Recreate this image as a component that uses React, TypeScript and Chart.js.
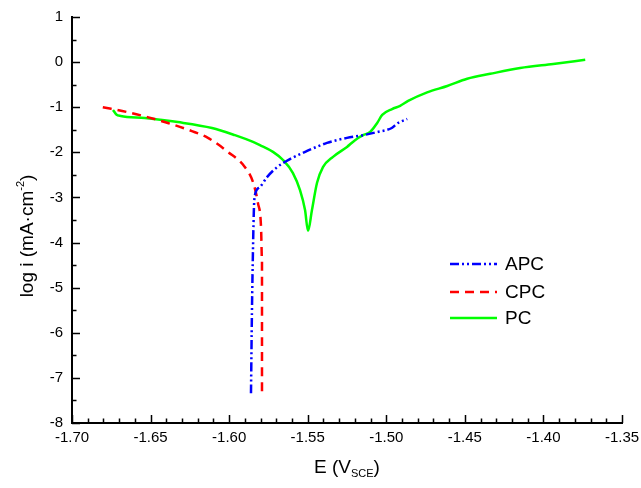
import React, { useEffect, useRef } from "react";
import { Chart, registerables } from "chart.js";

Chart.register(...registerables);

// ---------- data ----------
const xTickValues = [-1.7, -1.65, -1.6, -1.55, -1.5, -1.45, -1.4, -1.35];
const yTickValues = [-8, -7, -6, -5, -4, -3, -2, -1, 0, 1];

const seriesNames = ["APC", "CPC", "PC"];

const apcE = [-1.5861, -1.5855, -1.5848, -1.5842, -1.5836, -1.5804, -1.5759, -1.5695, -1.5613, -1.5504, -1.5377, -1.525, -1.5148, -1.5058, -1.4965, -1.4926, -1.4867];
const apcLogI = [-7.34, -5.56, -4.1, -3.21, -2.95, -2.77, -2.55, -2.33, -2.15, -1.97, -1.79, -1.68, -1.62, -1.55, -1.46, -1.35, -1.26];

const cpcE = [-1.6804, -1.6645, -1.652, -1.639, -1.6237, -1.6135, -1.6008, -1.5899, -1.5848, -1.5817, -1.5797, -1.5791, -1.5791];
const cpcLogI = [-1.0, -1.11, -1.22, -1.35, -1.53, -1.68, -1.99, -2.33, -2.66, -3.12, -3.66, -4.39, -7.31];

const pcE = [-1.6739, -1.6718, -1.669, -1.6536, -1.6326, -1.6109, -1.5963, -1.5848, -1.5804, -1.5721, -1.5657, -1.5594, -1.5549, -1.5517, -1.5498, -1.5473, -1.5441, -1.5403, -1.5339, -1.525, -1.5199, -1.5148, -1.5103, -1.5058, -1.5026, -1.4963, -1.4912, -1.4861, -1.474, -1.4612, -1.4485, -1.4339, -1.4148, -1.3938, -1.3734];
const pcLogI = [-1.06, -1.16, -1.195, -1.24, -1.33, -1.46, -1.62, -1.77, -1.84, -1.99, -2.17, -2.46, -2.84, -3.28, -3.74, -3.28, -2.68, -2.33, -2.1, -1.88, -1.73, -1.62, -1.55, -1.35, -1.17, -1.04, -0.97, -0.86, -0.67, -0.53, -0.37, -0.26, -0.13, -0.04, 0.05];

const seriesColors = ["#0000FF", "#FF0000", "#00FF00"];
const seriesDash = [[9, 3, 2, 3, 2, 3], [9, 6], []];

const FONT = '"Liberation Sans", Arial, sans-serif';

function toPoints(xs: number[], ys: number[]) {
  return xs.map((x, i) => ({ x, y: ys[i] }));
}

const decorPlugin = {
  id: "decor",
  afterDraw(chart: any) {
    const ctx = chart.ctx as CanvasRenderingContext2D;
    const xs = chart.scales.x;
    const ys = chart.scales.y;
    const area = chart.chartArea;
    ctx.save();
    // inward tick marks
    ctx.strokeStyle = "#000";
    ctx.lineWidth = 1.5;
    ctx.setLineDash([]);
    ctx.beginPath();
    for (let i = 0; i < xTickValues.length; i++) {
      const px = Math.round(xs.getPixelForValue(xTickValues[i])) + 0.5;
      ctx.moveTo(px, area.bottom);
      ctx.lineTo(px, area.bottom - 8);
      if (i < xTickValues.length - 1) {
        const step = (xTickValues[i + 1] - xTickValues[i]) / 5;
        for (let k = 1; k < 5; k++) {
          const mx = Math.round(xs.getPixelForValue(xTickValues[i] + step * k)) + 0.5;
          ctx.moveTo(mx, area.bottom);
          ctx.lineTo(mx, area.bottom - 4.5);
        }
      }
    }
    for (let i = 0; i < yTickValues.length; i++) {
      const py = Math.round(ys.getPixelForValue(yTickValues[i])) + 0.5;
      ctx.moveTo(area.left, py);
      ctx.lineTo(area.left + 8, py);
      if (i < yTickValues.length - 1) {
        const mid = (yTickValues[i] + yTickValues[i + 1]) / 2;
        const my = Math.round(ys.getPixelForValue(mid)) + 0.5;
        ctx.moveTo(area.left, my);
        ctx.lineTo(area.left + 4.5, my);
      }
    }
    ctx.stroke();

    // legend
    ctx.textBaseline = "middle";
    ctx.textAlign = "left";
    ctx.font = `19px ${FONT}`;
    const rows = [264, 292, 318];
    for (let i = 0; i < seriesNames.length; i++) {
      ctx.beginPath();
      ctx.strokeStyle = seriesColors[i];
      ctx.lineWidth = 2.5;
      ctx.setLineDash(seriesDash[i]);
      ctx.moveTo(450, rows[i]);
      ctx.lineTo(497, rows[i]);
      ctx.stroke();
      ctx.setLineDash([]);
      ctx.fillStyle = "#000";
      ctx.fillText(seriesNames[i], 505, rows[i] + 1);
    }

    // x axis title: E (V_SCE)
    ctx.fillStyle = "#000";
    ctx.textBaseline = "alphabetic";
    const big = `19px ${FONT}`;
    const small = `11px ${FONT}`;
    ctx.font = big;
    const p1 = "E (V";
    const w1 = ctx.measureText(p1).width;
    const p3 = ")";
    const w3 = ctx.measureText(p3).width;
    ctx.font = small;
    const p2 = "SCE";
    const w2 = ctx.measureText(p2).width;
    const cx = (area.left + area.right) / 2;
    let sx = cx - (w1 + w2 + w3) / 2;
    const by = 473;
    ctx.font = big;
    ctx.fillText(p1, sx, by);
    sx += w1;
    ctx.font = small;
    ctx.fillText(p2, sx, by + 4);
    sx += w2;
    ctx.font = big;
    ctx.fillText(p3, sx, by);

    // y axis title: log i (mA·cm-2)
    ctx.save();
    ctx.translate(33, 236);
    ctx.rotate(-Math.PI / 2);
    ctx.font = big;
    const q1 = "log i (mA·cm";
    const q3 = ")";
    const wq1 = ctx.measureText(q1).width;
    const wq3 = ctx.measureText(q3).width;
    ctx.font = small;
    const q2 = "-2";
    const wq2 = ctx.measureText(q2).width;
    let tx = -(wq1 + wq2 + wq3) / 2;
    ctx.font = big;
    ctx.fillText(q1, tx, 0);
    tx += wq1;
    ctx.font = small;
    ctx.fillText(q2, tx, -9);
    tx += wq2;
    ctx.font = big;
    ctx.fillText(q3, tx, 0);
    ctx.restore();

    ctx.restore();
  },
};

export default function App() {
  const canvasRef = useRef<HTMLCanvasElement | null>(null);

  useEffect(() => {
    if (!canvasRef.current) return;
    const xsArr = [apcE, cpcE, pcE];
    const ysArr = [apcLogI, cpcLogI, pcLogI];
    const chart = new Chart(canvasRef.current, {
      type: "line",
      data: {
        datasets: seriesNames.map((name, i) => ({
          label: name,
          data: toPoints(xsArr[i], ysArr[i]),
          borderColor: seriesColors[i],
          backgroundColor: seriesColors[i],
          borderDash: seriesDash[i],
          borderWidth: 2.5,
          pointRadius: 0,
          cubicInterpolationMode: "monotone" as const,
          fill: false,
        })),
      },
      options: {
        animation: false,
        responsive: true,
        maintainAspectRatio: false,
        layout: { padding: { left: 0, top: 17, right: 19, bottom: 0 } },
        plugins: {
          legend: { display: false },
          tooltip: { enabled: false },
          title: { display: false },
        },
        scales: {
          x: {
            type: "linear",
            min: -1.7,
            max: -1.35,
            afterBuildTicks: (axis: any) => {
              axis.ticks = xTickValues.map((v) => ({ value: v }));
            },
            afterFit: (s: any) => {
              s.height = 65;
              s.paddingLeft = 0;
              s.paddingRight = 0;
              s.paddingTop = 0;
              s.paddingBottom = 0;
            },
            ticks: {
              callback: (v: any) => Number(v).toFixed(2),
              font: { family: FONT, size: 15 },
              color: "#000",
              padding: 6,
              maxRotation: 0,
              autoSkip: false,
            },
            grid: { display: false, drawTicks: false },
            border: { display: true, color: "#000", width: 2 },
          },
          y: {
            type: "linear",
            min: -8,
            max: 1,
            afterBuildTicks: (axis: any) => {
              axis.ticks = yTickValues.map((v) => ({ value: v }));
            },
            afterFit: (s: any) => {
              s.width = 72;
              s.paddingLeft = 0;
              s.paddingRight = 0;
              s.paddingTop = 0;
              s.paddingBottom = 0;
            },
            ticks: {
              callback: (v: any) => String(v),
              font: { family: FONT, size: 15 },
              color: "#000",
              padding: 9,
              autoSkip: false,
            },
            grid: { display: false, drawTicks: false },
            border: { display: true, color: "#000", width: 2 },
          },
        },
      },
      plugins: [decorPlugin],
    });
    return () => chart.destroy();
  }, []);

  return (
    <div style={{ position: "absolute", left: 0, top: 0, width: 641, height: 488, background: "#fff" }}>
      <canvas ref={canvasRef} />
    </div>
  );
}
